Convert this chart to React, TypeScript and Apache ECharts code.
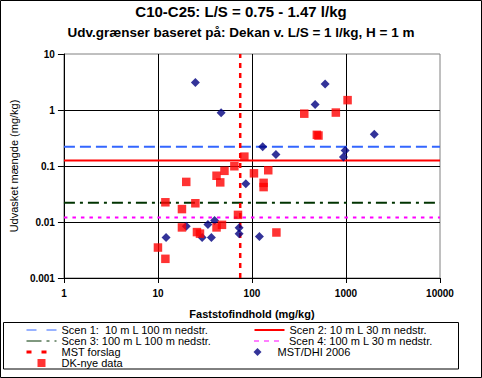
import React, { useEffect, useRef } from "react";
import * as echarts from "echarts";

const FONT = '"Liberation Sans", Arial, sans-serif';

const titleText = "C10-C25: L/S = 0.75 - 1.47 l/kg";
const subtitleText = "Udv.grænser baseret på: Dekan v. L/S = 1 l/kg, H = 1 m";
const xAxisName = "Faststofindhold (mg/kg)";
const yAxisName = "Udvasket mængde (mg/kg)";

const xRange = [1, 10000];
const yRange = [0.001, 10];

const scenNames = [
  "Scen 1:  10 m L 100 m nedstr.",
  "Scen 2: 10 m L 30 m nedstr.",
  "Scen 3: 100 m L 100 m nedstr.",
  "Scen 4: 100 m L 30 m nedstr.",
];
const scenValues = [0.22, 0.126, 0.022, 0.012];

const mstName = "MST forslag";
const mstValue = 75;

const dhiName = "MST/DHI 2006";
const dhiX = [25, 47, 130, 180, 86, 470, 600, 2000, 980, 940, 12.2, 20, 29.5, 34, 37, 40, 73, 73, 120];
const dhiY = [3.1, 0.89, 0.22, 0.16, 0.048, 1.25, 2.9, 0.37, 0.19, 0.145, 0.0053, 0.0084, 0.0053, 0.009, 0.0053, 0.0106, 0.0079, 0.0062, 0.0055];

const dkName = "DK-nye data";
const dkX = [10, 12, 12, 18, 18, 20, 25, 26, 28, 42, 46, 42, 48, 51, 65, 71, 83, 105, 149, 133, 133, 182, 360, 780, 1040, 490, 510];
const dkY = [0.0035, 0.0022, 0.0225, 0.017, 0.008, 0.052, 0.0216, 0.0066, 0.0062, 0.067, 0.051, 0.008, 0.0089, 0.082, 0.099, 0.0134, 0.147, 0.074, 0.084, 0.05, 0.042, 0.0065, 0.86, 0.9, 1.5, 0.36, 0.35];

const scenColors = ["#3366FF", "#FF0000", "#003300", "#FF00FF"];
const scenDash: any[] = [[11, 5], "solid", [11, 5, 3, 5], [3.5, 5]];
const scenLegendDash: any[] = [[10, 10], "solid", [15, 5, 3, 5], [5, 5]];
const scenLegendWidth = [1, 2, 1, 1];

function fmt(v: number) {
  return String(Number(v.toPrecision(3)));
}

const hiddenSymbol = { color: "none", borderWidth: 0, opacity: 0 };

export default function App() {
  const ref = useRef<HTMLDivElement>(null);
  useEffect(() => {
    if (!ref.current) return;
    const chart = echarts.init(ref.current, null, { renderer: "svg" });

    const lineSeries: any[] = scenNames.map((name, i) => ({
      name,
      type: "line",
      data: [
        [xRange[0], scenValues[i]],
        [xRange[1], scenValues[i]],
      ],
      symbol: "none",
      silent: true,
      z: 2,
      lineStyle: { color: scenColors[i], width: 2, type: scenDash[i] },
      itemStyle: { color: scenColors[i] },
    }));

    lineSeries.push({
      name: mstName,
      type: "line",
      data: [
        [mstValue, yRange[0]],
        [mstValue, yRange[1]],
      ],
      symbol: "none",
      silent: true,
      z: 2,
      lineStyle: { color: "#FF0000", width: 2.5, type: [5, 5] },
      itemStyle: { color: "#FF0000" },
    });

    const option: any = {
      animation: false,
      backgroundColor: "#fff",
      title: [
        {
          text: titleText,
          left: "center",
          top: 4,
          padding: 0,
          textStyle: { fontFamily: FONT, fontSize: 15, fontWeight: "bold", color: "#000" },
        },
        {
          text: subtitleText,
          left: "center",
          top: 25,
          padding: 0,
          textStyle: { fontFamily: FONT, fontSize: 13.5, fontWeight: "bold", color: "#000" },
        },
      ],
      grid: {
        left: 55,
        top: 54,
        right: 42,
        bottom: 100,
        show: true,
        borderColor: "#808080",
        borderWidth: 1,
        backgroundColor: "transparent",
      },
      xAxis: {
        type: "log",
        logBase: 10,
        min: xRange[0],
        max: xRange[1],
        name: xAxisName,
        nameLocation: "middle",
        nameGap: 30,
        nameTextStyle: { fontFamily: FONT, fontSize: 11, fontWeight: "bold", color: "#000" },
        axisLine: { show: true, onZero: false, lineStyle: { color: "#000", width: 1 } },
        axisTick: { show: true, inside: false, length: 5, lineStyle: { color: "#000" } },
        axisLabel: {
          fontFamily: FONT,
          fontSize: 10,
          fontWeight: "bold",
          color: "#000",
          margin: 10,
          formatter: (v: number) => fmt(v),
        },
        splitLine: { show: true, showMaxLine: false, lineStyle: { color: "#000", width: 1 } },
        minorTick: { show: false },
      },
      yAxis: {
        type: "log",
        logBase: 10,
        min: yRange[0],
        max: yRange[1],
        name: yAxisName,
        nameLocation: "middle",
        nameGap: 38,
        nameRotate: 90,
        nameTextStyle: { fontFamily: FONT, fontSize: 11, color: "#000" },
        axisLine: { show: true, onZero: false, lineStyle: { color: "#000", width: 1 } },
        axisTick: { show: true, inside: false, length: 6, lineStyle: { color: "#000" } },
        axisLabel: {
          fontFamily: FONT,
          fontSize: 10,
          fontWeight: "bold",
          color: "#000",
          margin: 9,
          formatter: (v: number) => fmt(v),
        },
        splitLine: { show: true, showMaxLine: false, lineStyle: { color: "#000", width: 1 } },
      },
      legend: {
        left: 25,
        top: 324.5,
        width: 460,
        itemWidth: 30,
        itemHeight: 8,
        itemGap: 0,
        padding: 0,
        selectedMode: false,
        textStyle: { fontFamily: FONT, fontSize: 11, color: "#000", width: 192, lineHeight: 10 },
        data: [
          ...scenNames.map((name, i) => ({
            name,
            itemStyle: hiddenSymbol,
            lineStyle: { width: scenLegendWidth[i], type: scenLegendDash[i] },
          })),
          { name: mstName, itemStyle: hiddenSymbol, lineStyle: { width: 3, type: [5, 10] } },
          { name: dhiName, icon: "path://M5,0L10,5L5,10L0,5Z" },
          { name: dkName, icon: "path://M0,0H10V10H0Z" },
        ],
      },
      graphic: [
        {
          type: "rect",
          shape: { x: 3.5, y: 322.5, width: 455, height: 46.5 },
          style: { fill: "none", stroke: "#000", lineWidth: 1 },
          z: -1,
          silent: true,
        },
        {
          type: "rect",
          shape: { x: 0.5, y: 0.5, width: 481, height: 377 },
          style: { fill: "none", stroke: "#000", lineWidth: 1 },
          z: -1,
          silent: true,
        },
      ],
      series: [
        ...lineSeries,
        {
          name: dhiName,
          type: "scatter",
          symbol: "diamond",
          symbolSize: 9,
          z: 3,
          itemStyle: { color: "#000080" },
          data: dhiX.map((x, i) => [x, dhiY[i]]),
        },
        {
          name: dkName,
          type: "scatter",
          symbol: "rect",
          symbolSize: 8.5,
          z: 4,
          itemStyle: { color: "#FF0000" },
          data: dkX.map((x, i) => [x, dkY[i]]),
        },
      ],
    };

    chart.setOption(option);
    return () => chart.dispose();
  }, []);

  return (
    <div
      ref={ref}
      style={{ position: "absolute", left: 0, top: 0, width: 482, height: 378 }}
    />
  );
}
